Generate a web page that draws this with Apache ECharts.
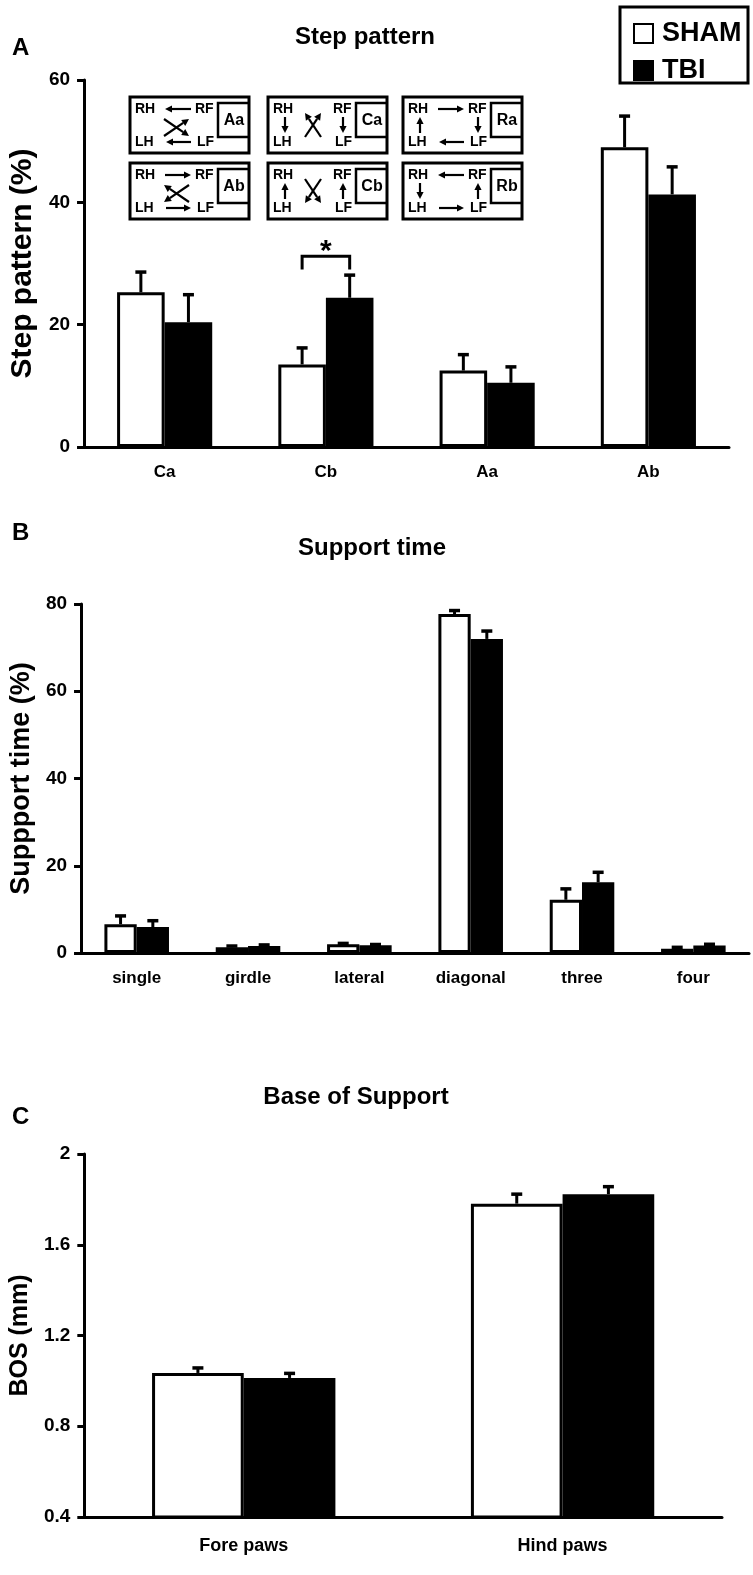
<!DOCTYPE html>
<html><head><meta charset="utf-8">
<script src="https://cdn.jsdelivr.net/npm/echarts@6/dist/echarts.min.js"></script>
<style>html,body{margin:0;padding:0;background:#fff}#c{width:753px;height:1575px}</style>
</head><body><div id="c"></div>
<script>
// ---- data ----
const stepCategories = ['Ca','Cb','Aa','Ab'];
const stepSham = [25.3, 13.5, 12.5, 49.0];
const stepShamErr = [3.3, 2.7, 2.6, 5.1];
const stepTbi = [20.4, 24.4, 10.5, 41.3];
const stepTbiErr = [4.5, 3.7, 2.6, 4.5];

const supportCategories = ['single','girdle','lateral','diagonal','three','four'];
const supportSham = [6.6, 1.3, 2.0, 77.7, 12.2, 1.0];
const supportShamErr = [1.9, 0.3, 0.2, 0.8, 2.5, 0.3];
const supportTbi = [5.95, 1.6, 1.75, 72.0, 16.2, 1.7];
const supportTbiErr = [1.45, 0.25, 0.2, 1.8, 2.3, 0.3];

const bosCategories = ['Fore paws','Hind paws'];
const bosSham = [1.035, 1.781];
const bosShamErr = [0.022, 0.042];
const bosTbi = [1.013, 1.823];
const bosTbiErr = [0.020, 0.033];

// significance bracket: [category index, bracket level, tick bottom]
const stepSignificance = [[1, 31.2, 29.0]];
const significanceMark = '*';

const groupNames = ['SHAM', 'TBI'];

// ---- styling ----
const F = '"Liberation Sans", Arial, sans-serif';
const GAPS = [0.41, 0.42, 0.425];
const CAPS = [11, 11, 11];

function barSeries(name, g, data, fill) {
  return {
    name, type: 'bar', xAxisIndex: g, yAxisIndex: g, data,
    barGap: '0%', barCategoryGap: (GAPS[g] * 100) + '%',
    itemStyle: { color: fill, borderColor: '#000', borderWidth: 3 },
    z: 12, silent: true, animation: false
  };
}
function errorSeries(g, means, errs, side) {
  const gap = GAPS[g], capW = CAPS[g];
  return {
    type: 'custom', xAxisIndex: g, yAxisIndex: g, z: 13, silent: true, animation: false,
    data: means.map((m, i) => [i, m, m + errs[i]]),
    renderItem(params, api) {
      const base = api.coord([api.value(0), api.value(1)]);
      const top = api.coord([api.value(0), api.value(2)]);
      const band = api.size([1, 0])[0];
      const bw = band * (1 - gap) / 2;
      const x = base[0] + side * bw / 2;
      return { type: 'group', children: [
        { type: 'line', shape: { x1: x, y1: base[1], x2: x, y2: top[1] }, style: { stroke: '#000', lineWidth: 3 } },
        { type: 'line', shape: { x1: x - capW / 2, y1: top[1], x2: x + capW / 2, y2: top[1] }, style: { stroke: '#000', lineWidth: 3.5 } }
      ]};
    }
  };
}
function bracketSeries(g, data) {
  const gap = GAPS[g];
  return {
    type: 'custom', xAxisIndex: g, yAxisIndex: g, z: 13, silent: true, animation: false,
    data,
    renderItem(params, api) {
      const lvl = api.coord([api.value(0), api.value(1)]);
      const drop = api.coord([api.value(0), api.value(2)]);
      const band = api.size([1, 0])[0];
      const bw = band * (1 - gap) / 2;
      const xl = lvl[0] - bw / 2, xr = lvl[0] + bw / 2;
      return { type: 'group', children: [
        { type: 'polyline', shape: { points: [[xl, drop[1]], [xl, lvl[1]], [xr, lvl[1]], [xr, drop[1]]] },
          style: { stroke: '#000', lineWidth: 3, fill: null } },
        { type: 'text', style: { text: significanceMark, x: lvl[0], y: lvl[1] + 11, align: 'center', verticalAlign: 'bottom',
          font: 'bold 30px ' + F, fill: '#000' } }
      ]};
    }
  };
}
function xAxis(g, cats, fontSize, margin) {
  return {
    type: 'category', gridIndex: g, data: cats,
    axisLine: { lineStyle: { color: '#000', width: 3 } },
    axisTick: { length: 7, lineStyle: { color: '#000', width: 3 } },
    axisLabel: { color: '#000', fontWeight: 'bold', fontSize, margin, fontFamily: F },
    splitLine: { show: false }
  };
}
function yAxis(g, min, max, interval, name, nameSize, nameGap) {
  return {
    type: 'value', gridIndex: g, min, max, interval,
    name, nameLocation: 'middle', nameGap,
    nameTextStyle: { color: '#000', fontWeight: 'bold', fontSize: nameSize, fontFamily: F },
    axisLine: { show: true, lineStyle: { color: '#000', width: 3 } },
    axisTick: { show: true, length: 7, lineStyle: { color: '#000', width: 3 } },
    axisLabel: { color: '#000', fontWeight: 'bold', fontSize: 19, margin: 14, fontFamily: F },
    splitLine: { show: false }
  };
}

// ---- inset diagrams (step pattern legend) ----
const P = {
  top: [35, 12, 61, 12], bottom: [36, 45, 61, 45],
  left: [17, 20, 17, 36], right: [75, 20, 75, 36],
  a1: [34, 22, 59, 39], a2: [34, 39, 59, 22],
  c1: [37, 16, 53, 40], c2: [37, 40, 53, 16]
};
const insets = [
  { label: 'Aa', col: 0, row: 0, arrows: [['top', 1], ['bottom', 1], ['a1', 0], ['a2', 0]] },
  { label: 'Ab', col: 0, row: 1, arrows: [['top', 0], ['bottom', 0], ['a1', 1], ['a2', 1]] },
  { label: 'Ca', col: 1, row: 0, arrows: [['left', 0], ['right', 0], ['c1', 1], ['c2', 0]] },
  { label: 'Cb', col: 1, row: 1, arrows: [['left', 1], ['right', 1], ['c1', 0], ['c2', 1]] },
  { label: 'Ra', col: 2, row: 0, arrows: [['top', 0], ['right', 0], ['bottom', 1], ['left', 1]] },
  { label: 'Rb', col: 2, row: 1, arrows: [['top', 1], ['left', 0], ['bottom', 0], ['right', 1]] }
];
const colX = [130, 268, 403], rowY = [97, 163], BW = 119, BH = 56;
function arrowEl(s) {
  const [x1, y1, x2, y2] = s;
  const a = Math.atan2(y2 - y1, x2 - x1), L = 7, W = 3.6;
  const c = Math.cos(a), sn = Math.sin(a);
  const bx = x2 - L * c, by = y2 - L * sn;
  return [
    { type: 'line', shape: { x1, y1, x2: bx, y2: by }, style: { stroke: '#000', lineWidth: 2.2 } },
    { type: 'polygon', shape: { points: [[x2, y2], [bx - W * sn, by + W * c], [bx + W * sn, by - W * c]] }, style: { fill: '#000' } }
  ];
}
function insetGroup(d) {
  const children = [
    { type: 'rect', shape: { x: 0, y: 0, width: BW, height: BH }, style: { fill: '#fff', stroke: '#000', lineWidth: 3 } },
    { type: 'polyline', shape: { points: [[BW, 6], [88, 6], [88, 40], [BW, 40]] }, style: { stroke: '#000', lineWidth: 2.5, fill: null } },
    { type: 'text', style: { text: d.label, x: 104, y: 24, align: 'center', verticalAlign: 'middle', font: 'bold 16px ' + F, fill: '#000' } },
    { type: 'text', style: { text: 'RH', x: 5, y: 12, verticalAlign: 'middle', font: 'bold 14px ' + F, fill: '#000' } },
    { type: 'text', style: { text: 'RF', x: 65, y: 12, verticalAlign: 'middle', font: 'bold 14px ' + F, fill: '#000' } },
    { type: 'text', style: { text: 'LH', x: 5, y: 45, verticalAlign: 'middle', font: 'bold 14px ' + F, fill: '#000' } },
    { type: 'text', style: { text: 'LF', x: 67, y: 45, verticalAlign: 'middle', font: 'bold 14px ' + F, fill: '#000' } }
  ];
  d.arrows.forEach(([k, rev]) => {
    const s = P[k];
    children.push(...arrowEl(rev ? [s[2], s[3], s[0], s[1]] : s));
  });
  return { type: 'group', x: colX[d.col], y: rowY[d.row], children, z: 1 };
}

function label(text, x, y, size, align) {
  return { type: 'text', x, y, style: { text, align: align || 'left', verticalAlign: 'middle', font: 'bold ' + size + 'px ' + F, fill: '#000' }, z: 10 };
}

const chart = echarts.init(document.getElementById('c'), null, { renderer: 'canvas' });
chart.setOption({
  backgroundColor: '#fff',
  animation: false,
  grid: [
    { left: 77, top: 80, width: 652, height: 367 },
    { left: 77, top: 604, width: 672, height: 349 },
    { left: 79, top: 1154, width: 643, height: 363 }
  ],
  xAxis: [xAxis(0, stepCategories, 17, 17), xAxis(1, supportCategories, 17, 17), xAxis(2, bosCategories, 18, 20)],
  yAxis: [
    yAxis(0, 0, 60, 20, 'Step pattern (%)', 30, 46),
    yAxis(1, 0, 80, 20, 'Suppport time (%)', 27, 44),
    yAxis(2, 0.4, 2, 0.4, 'BOS (mm)', 25, 46)
  ],
  legend: {
    data: groupNames, orient: 'vertical', left: 628, top: 15, itemGap: 10,
    itemWidth: 19, itemHeight: 19, selectedMode: false, icon: 'rect',
    textStyle: { color: '#000', fontWeight: 'bold', fontSize: 27, fontFamily: F, padding: [0, 0, 0, 4] }
  },
  graphic: [
    { type: 'rect', shape: { x: 620, y: 7, width: 128, height: 76 }, style: { fill: null, stroke: '#000', lineWidth: 3 }, z: 10 },
    label('A', 12, 48, 24), label('Step pattern', 365, 37, 24, 'center'),
    label('B', 12, 533, 24), label('Support time', 372, 548, 24, 'center'),
    label('C', 12, 1117, 24), label('Base of Support', 356, 1097, 24, 'center'),
    ...insets.map(insetGroup)
  ],
  series: [
    barSeries(groupNames[0], 0, stepSham, '#fff'),
    barSeries(groupNames[1], 0, stepTbi, '#000'),
    errorSeries(0, stepSham, stepShamErr, -1),
    errorSeries(0, stepTbi, stepTbiErr, 1),
    bracketSeries(0, stepSignificance),
    barSeries(groupNames[0], 1, supportSham, '#fff'),
    barSeries(groupNames[1], 1, supportTbi, '#000'),
    errorSeries(1, supportSham, supportShamErr, -1),
    errorSeries(1, supportTbi, supportTbiErr, 1),
    barSeries(groupNames[0], 2, bosSham, '#fff'),
    barSeries(groupNames[1], 2, bosTbi, '#000'),
    errorSeries(2, bosSham, bosShamErr, -1),
    errorSeries(2, bosTbi, bosTbiErr, 1)
  ]
});
</script></body></html>
